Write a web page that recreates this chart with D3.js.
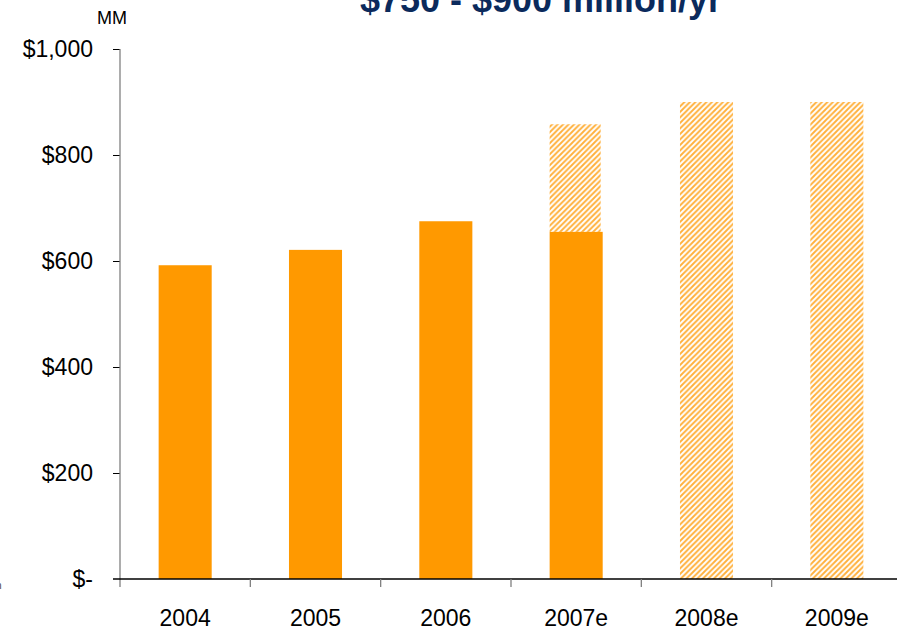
<!DOCTYPE html>
<html>
<head>
<meta charset="utf-8">
<script src="https://cdn.jsdelivr.net/npm/d3@7"></script>
<style>
  html, body { margin: 0; padding: 0; background: #fff; }
  svg { display: block; font-family: Arial, "Liberation Sans", sans-serif; }
</style>
</head>
<body>
<svg id="chart" width="897" height="629"></svg>
<script>
// Annual spend, $MM
const years = ["2004", "2005", "2006", "2007e", "2008e", "2009e"];
const actual = [592, 621, 675, 655, null, null];
const estimate = [null, null, null, 858, 900, 900];
const yTicks = [0, 200, 400, 600, 800, 1000];
const yTickLabels = ["$-", "$200", "$400", "$600", "$800", "$1,000"];
const title = "$750 - $900 million/yr";
const unit = "MM";

const svg = d3.select("#chart");
const W = 897;
const mLeft = 120, mBottom = 579, mTop = 49, mRight = 902;

const x = d3.scaleBand().domain(years).range([mLeft, mRight]).padding(0);
const y = d3.scaleLinear().domain([0, 1000]).range([mBottom, mTop]);
const barW = x.bandwidth() * 0.407;

// diagonal hatch for estimated portions
const defs = svg.append("defs");
const pat = defs.append("pattern")
  .attr("id", "hatch")
  .attr("patternUnits", "userSpaceOnUse")
  .attr("width", 5.5).attr("height", 5.5);
pat.append("rect").attr("width", 5.5).attr("height", 5.5).attr("fill", "#fff");
pat.append("path")
  .attr("d", "M-1,1 L1,-1 M0,5.5 L5.5,0 M4.5,6.5 L6.5,4.5")
  .attr("stroke", "#ffb03a")
  .attr("stroke-width", 1.9);

// title (partly above the page edge)
svg.append("text")
  .attr("x", 541).attr("y", 12)
  .attr("text-anchor", "middle")
  .attr("font-size", 36).attr("font-weight", "bold")
  .attr("fill", "#0b2a5c")
  .text(title);

svg.append("text")
  .attr("x", 97).attr("y", 24)
  .attr("font-size", 18).attr("fill", "#000")
  .text(unit);

// clipped footnote glyph at the left edge
svg.append("text")
  .attr("x", -4).attr("y", 589)
  .attr("font-size", 10).attr("fill", "#444")
  .text("n");

// estimate (hatched) bars
const estData = years.map((yr, i) => ({ yr, lo: actual[i] || 0, hi: estimate[i] }))
  .filter(d => d.hi != null);
svg.append("g").selectAll("rect").data(estData).join("rect")
  .attr("x", d => x(d.yr) + (x.bandwidth() - barW) / 2)
  .attr("width", d => d.lo > 0 ? barW - 2 : barW)
  .attr("y", d => y(d.hi))
  .attr("height", d => y(d.lo) - y(d.hi))
  .attr("fill", "url(#hatch)");

// actual (solid) bars
const actData = years.map((yr, i) => ({ yr, v: actual[i] })).filter(d => d.v != null);
svg.append("g").selectAll("rect").data(actData).join("rect")
  .attr("x", d => x(d.yr) + (x.bandwidth() - barW) / 2)
  .attr("width", barW)
  .attr("y", d => y(d.v))
  .attr("height", d => y(0) - y(d.v))
  .attr("fill", "#ff9900");

// y axis
const yAxis = svg.append("g").attr("transform", `translate(${mLeft},0)`)
  .call(d3.axisLeft(y).tickValues(yTicks).tickSize(7).tickPadding(20)
    .tickFormat((d, i) => yTickLabels[i]));
yAxis.select(".domain").remove();
yAxis.selectAll(".tick line").attr("stroke", "#000");
yAxis.selectAll(".tick text").attr("font-size", 23).attr("fill", "#000")
  .attr("font-family", "Arial, 'Liberation Sans', sans-serif");
yAxis.selectAll(".tick").filter(d => d === 0).select("line").remove();
svg.append("line")
  .attr("x1", mLeft).attr("x2", mLeft)
  .attr("y1", y(1000)).attr("y2", mBottom + 8)
  .attr("stroke", "#808080").attr("stroke-width", 1.3);

// x axis
svg.append("line")
  .attr("x1", mLeft - 7).attr("x2", W)
  .attr("y1", mBottom).attr("y2", mBottom)
  .attr("stroke", "#000").attr("stroke-width", 1.3);
const bounds = years.slice(1).map(yr => x(yr));
svg.append("g").selectAll("line").data(bounds).join("line")
  .attr("x1", d => d).attr("x2", d => d)
  .attr("y1", mBottom).attr("y2", mBottom + 8)
  .attr("stroke", "#808080").attr("stroke-width", 1.3);
svg.append("g").selectAll("text").data(years).join("text")
  .attr("x", d => x(d) + x.bandwidth() / 2)
  .attr("y", 626)
  .attr("text-anchor", "middle")
  .attr("font-size", 23).attr("fill", "#000")
  .text(d => d);
</script>
</body>
</html>
